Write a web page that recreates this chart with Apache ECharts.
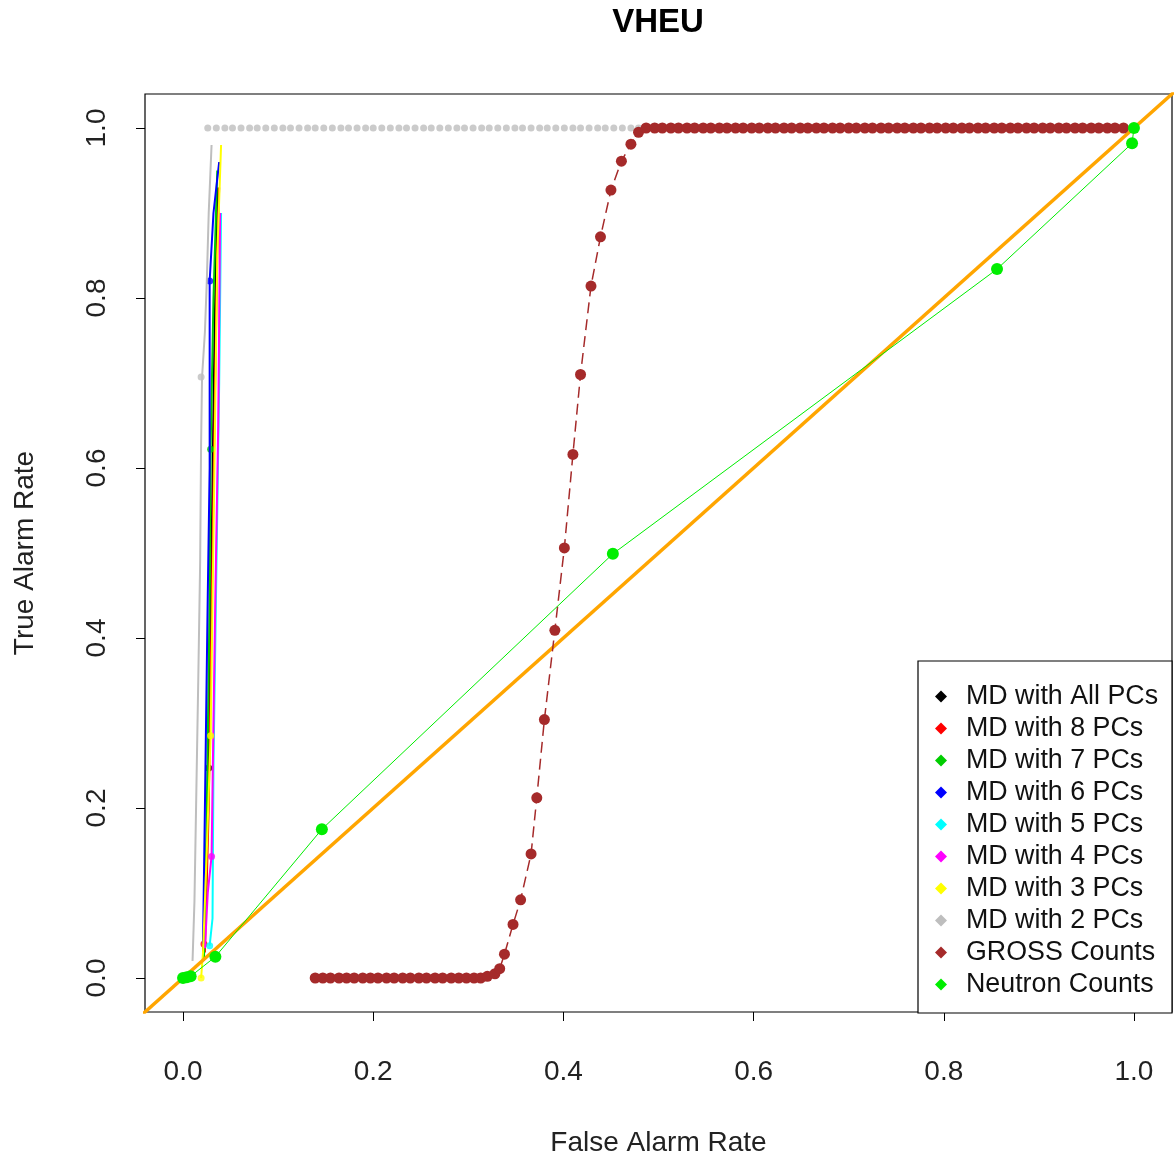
<!DOCTYPE html>
<html>
<head>
<meta charset="utf-8">
<script src="https://cdn.jsdelivr.net/npm/echarts@6/dist/echarts.min.js"></script>
<style>
  html, body { margin: 0; padding: 0; background: #fff; }
  #chart { width: 1174px; height: 1162px; }
</style>
</head>
<body>
<div id="chart"></div>
<script>
// Axis ticks shared by both axes
const tickValues = [0, 0.2, 0.4, 0.6, 0.8, 1.0];
const tickLabels = ['0.0', '0.2', '0.4', '0.6', '0.8', '1.0'];

// ROC curves of the Mahalanobis-distance detectors: [false alarm rate, true alarm rate]
const mdAllCurve = [[0.021, 0.03], [0.024, 0.10], [0.027, 0.247], [0.030, 0.50], [0.033, 0.75], [0.036, 0.93]];
const md8Curve = [[0.023, 0.03], [0.027, 0.20], [0.029, 0.35], [0.033, 0.65], [0.036, 0.85], [0.038, 0.93]];
const md7Curve = [[0.022, 0.02], [0.025, 0.20], [0.028, 0.45], [0.029, 0.622], [0.032, 0.80], [0.036, 0.95]];
const md6Curve = [[0.021, 0.04], [0.023, 0.20], [0.026, 0.45], [0.028, 0.60], [0.028, 0.82], [0.032, 0.90], [0.038, 0.96]];
const md5Curve = [[0.028, 0.038], [0.031, 0.07], [0.032, 0.25], [0.034, 0.40], [0.036, 0.55], [0.038, 0.70], [0.040, 0.90]];
const md4Curve = [[0.023, 0.035], [0.026, 0.10], [0.030, 0.143], [0.032, 0.30], [0.034, 0.45], [0.037, 0.65], [0.039, 0.90]];
const md3Curve = [[0.019, 0.0], [0.021, 0.03], [0.025, 0.15], [0.029, 0.285], [0.033, 0.60], [0.036, 0.85], [0.040, 0.98]];
const md2Curve = [[0.010, 0.02], [0.012, 0.09], [0.014, 0.22], [0.016, 0.35], [0.018, 0.49], [0.019, 0.63], [0.020, 0.707], [0.023, 0.76], [0.025, 0.82], [0.027, 0.90], [0.030, 0.98]];

// Operating points marked on each curve
const mdAllMarks = [[0.027, 0.247]];
const md8Marks = [[0.022, 0.04]];
const md7Marks = [[0.029, 0.622]];
const md6Marks = [[0.028, 0.82]];
const md5Marks = [[0.028, 0.038]];
const md4Marks = [[0.030, 0.143]];
const md3Marks = [[0.029, 0.285], [0.019, 0.0]];
const md2MarksFpr = [0.019, 0.026, 0.035, 0.044, 0.052, 0.061, 0.070, 0.078, 0.087, 0.096, 0.105, 0.113, 0.122, 0.131, 0.139,
  0.148, 0.157, 0.166, 0.174, 0.183, 0.192, 0.200, 0.209, 0.218, 0.227, 0.235, 0.244, 0.253, 0.261, 0.270,
  0.279, 0.288, 0.296, 0.305, 0.314, 0.322, 0.331, 0.340, 0.349, 0.357, 0.366, 0.375, 0.383, 0.392, 0.401,
  0.410, 0.418, 0.427, 0.436, 0.444, 0.453, 0.462, 0.471, 0.479, 0.488];
const md2MarksTpr = [0.707, 1, 1, 1, 1, 1, 1, 1, 1, 1, 1, 1, 1, 1, 1,
  1, 1, 1, 1, 1, 1, 1, 1, 1, 1, 1, 1, 1, 1, 1,
  1, 1, 1, 1, 1, 1, 1, 1, 1, 1, 1, 1, 1, 1, 1,
  1, 1, 1, 1, 1, 1, 1, 1, 1, 1];

// Gross counts detector
const grossFpr = [0.139, 0.147, 0.155, 0.164, 0.172, 0.180, 0.189, 0.197, 0.205, 0.214, 0.222, 0.231, 0.239, 0.248,
  0.256, 0.265, 0.273, 0.282, 0.290, 0.298, 0.306, 0.313, 0.320, 0.328, 0.333, 0.338, 0.347, 0.355, 0.366,
  0.372, 0.380, 0.391, 0.401, 0.410, 0.418, 0.429, 0.439, 0.450, 0.461, 0.471, 0.479,
  0.487, 0.496, 0.504, 0.513, 0.521, 0.530, 0.538, 0.547, 0.555, 0.564, 0.572, 0.581, 0.589, 0.598, 0.606,
  0.615, 0.623, 0.632, 0.640, 0.649, 0.657, 0.666, 0.674, 0.683, 0.691, 0.700, 0.708, 0.717, 0.725, 0.734,
  0.742, 0.751, 0.759, 0.768, 0.776, 0.785, 0.793, 0.802, 0.810, 0.819, 0.827, 0.836, 0.844, 0.853, 0.861,
  0.870, 0.878, 0.887, 0.895, 0.904, 0.912, 0.921, 0.929, 0.938, 0.946, 0.955, 0.963, 0.972, 0.980, 0.989, 0.997];
const grossTpr = [0, 0, 0, 0, 0, 0, 0, 0, 0, 0, 0, 0, 0, 0,
  0, 0, 0, 0, 0, 0, 0, 0, 0.002, 0.005, 0.011, 0.028, 0.063, 0.092, 0.146,
  0.212, 0.304, 0.409, 0.506, 0.616, 0.710, 0.814, 0.872, 0.927, 0.961, 0.981, 0.995,
  1, 1, 1, 1, 1, 1, 1, 1, 1, 1, 1, 1, 1, 1, 1,
  1, 1, 1, 1, 1, 1, 1, 1, 1, 1, 1, 1, 1, 1, 1,
  1, 1, 1, 1, 1, 1, 1, 1, 1, 1, 1, 1, 1, 1, 1,
  1, 1, 1, 1, 1, 1, 1, 1, 1, 1, 1, 1, 1, 1, 1];

// Neutron counts detector
const neutronFpr = [0.0, 0.004, 0.008, 0.034, 0.146, 0.452, 0.856, 0.998, 1.0];
const neutronTpr = [0.0, 0.001, 0.002, 0.025, 0.175, 0.499, 0.834, 0.982, 1.0];

// Chance line
const chanceLine = [[-0.1, -0.1], [1.1, 1.1]];

const zip = (xs, ys) => xs.map((x, i) => [x, ys[i]]);

const FONT = '"Liberation Sans", Arial, sans-serif';

const mdSeries = [
  { name: 'MD with All PCs', color: '#000000', curve: mdAllCurve, marks: mdAllMarks },
  { name: 'MD with 8 PCs', color: '#FF0000', curve: md8Curve, marks: md8Marks },
  { name: 'MD with 7 PCs', color: '#00CD00', curve: md7Curve, marks: md7Marks },
  { name: 'MD with 6 PCs', color: '#0000FF', curve: md6Curve, marks: md6Marks },
  { name: 'MD with 5 PCs', color: '#00FFFF', curve: md5Curve, marks: md5Marks },
  { name: 'MD with 4 PCs', color: '#FF00FF', curve: md4Curve, marks: md4Marks },
  { name: 'MD with 3 PCs', color: '#FFFF00', curve: md3Curve, marks: md3Marks },
  { name: 'MD with 2 PCs', color: '#BEBEBE', curve: md2Curve, marks: zip(md2MarksFpr, md2MarksTpr) }
];

const series = [];
mdSeries.forEach((s, i) => {
  series.push({
    name: s.name, type: 'line', data: s.curve, showSymbol: false, symbol: 'circle',
    color: s.color, lineStyle: { color: s.color, width: 2 }, z: 2 + i * 0.01, animation: false
  });
  series.push({
    name: s.name, type: 'scatter', data: s.marks, symbol: 'circle', symbolSize: 7,
    itemStyle: { color: s.color }, z: 2 + i * 0.01, animation: false
  });
});

series.push({
  name: 'chance', type: 'line', data: chanceLine, showSymbol: false, clip: true,
  lineStyle: { color: '#FFA500', width: 3.5 }, z: 3, animation: false, silent: true
});
series.push({
  name: 'GROSS Counts', type: 'line', data: zip(grossFpr, grossTpr), symbol: 'circle', symbolSize: 11,
  color: '#A52A2A', itemStyle: { color: '#A52A2A' }, lineStyle: { color: '#A52A2A', width: 1.5, type: [11, 6] },
  z: 4, animation: false
});
series.push({
  name: 'Neutron Counts', type: 'line', data: zip(neutronFpr, neutronTpr), symbol: 'circle', symbolSize: 12,
  color: '#00EE00', itemStyle: { color: '#00EE00' }, lineStyle: { color: '#00EE00', width: 1 },
  z: 5, animation: false
});

const legendNames = mdSeries.map(s => s.name).concat(['GROSS Counts', 'Neutron Counts']);

const axisCommon = {
  type: 'value', min: -0.04, max: 1.04,
  axisLine: { show: false, onZero: false },
  splitLine: { show: false },
  axisTick: { show: true, inside: false, length: 9, customValues: tickValues, lineStyle: { color: '#000', width: 1 } },
  nameLocation: 'middle',
  nameTextStyle: { fontFamily: FONT, fontSize: 28, color: '#222' }
};

const option = {
  animation: false,
  backgroundColor: '#ffffff',
  grid: { left: 145, right: 2, top: 94, bottom: 149, show: true, borderColor: '#000', borderWidth: 1.2, backgroundColor: 'transparent' },
  xAxis: Object.assign({}, axisCommon, {
    name: 'False Alarm Rate', nameGap: 117,
    axisLabel: {
      customValues: tickValues, margin: 46, fontFamily: FONT, fontSize: 28, color: '#222',
      formatter: v => tickLabels[tickValues.findIndex(t => Math.abs(t - v) < 1e-9)]
    }
  }),
  yAxis: Object.assign({}, axisCommon, {
    name: 'True Alarm Rate', nameGap: 106,
    axisLabel: {
      customValues: tickValues, margin: 34, rotate: 90, fontFamily: FONT, fontSize: 28, color: '#222',
      formatter: v => tickLabels[tickValues.findIndex(t => Math.abs(t - v) < 1e-9)]
    }
  }),
  legend: {
    data: legendNames.map(n => ({ name: n, icon: 'diamond' })),
    orient: 'vertical', left: 935, top: 683, padding: 0,
    itemWidth: 12, itemHeight: 12, itemGap: 5, selectedMode: false, z: 10,
    formatter: n => '{t|' + n + '}',
    textStyle: {
      fontFamily: FONT, fontSize: 26.8, lineHeight: 26, color: '#111',
      rich: { t: { fontFamily: FONT, fontSize: 26.8, lineHeight: 26, color: '#111', padding: [0, 0, 0, 14] } }
    }
  },
  graphic: [
    {
      type: 'rect', z: 8, silent: true,
      shape: { x: 918, y: 661, width: 254, height: 352 },
      style: { fill: '#ffffff', stroke: '#000', lineWidth: 1.2 }
    },
    {
      type: 'text', z: 10, silent: true, x: 658, y: 23,
      style: { text: 'VHEU', fontFamily: FONT, fontSize: 33, fontWeight: 'bold', fill: '#000', align: 'center', verticalAlign: 'middle' }
    }
  ],
  series: series
};

const chart = echarts.init(document.getElementById('chart'), null, { renderer: 'canvas' });
chart.setOption(option);
</script>
</body>
</html>
